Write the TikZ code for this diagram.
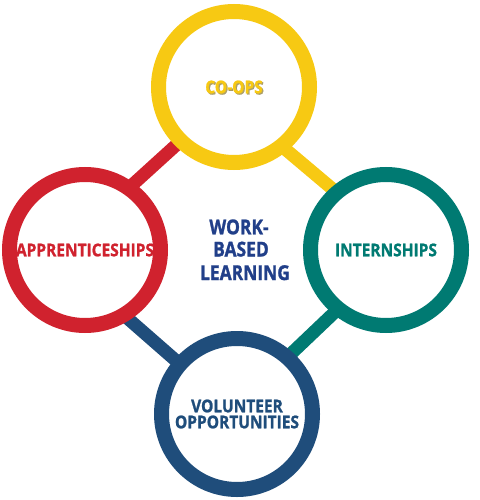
\documentclass[tikz,border=0pt]{standalone}
\usepackage{fontspec}
\setmainfont{Open Sans}[FakeStretch=0.85]
\newfontfamily\lblfont{Open Sans}[FakeStretch=0.88, FakeBold=1.2]
\newfontfamily\ctrfont{Open Sans}[FakeStretch=0.85, FakeBold=1.2]
\definecolor{yellowC}{HTML}{F7C913}
\definecolor{redC}{HTML}{D0222E}
\definecolor{tealC}{HTML}{007A72}
\definecolor{blueC}{HTML}{1F4D7B}
\definecolor{wblC}{HTML}{213F89}
\definecolor{shadowC}{HTML}{9C8A45}
\begin{document}
\begin{tikzpicture}[x=1pt,y=-1pt,
  ring/.style={circle, line width=15pt, fill=white, minimum size=151pt, inner sep=0pt},
  bar/.style={line width=13pt},
  lbl/.style={font=\lblfont\bfseries\fontsize{17.6}{16}\selectfont, align=center},
  ctr/.style={font=\ctrfont\bfseries\fontsize{20.5}{23}\selectfont, text=wblC, anchor=base}]
\useasboundingbox (0,0) rectangle (479,500);
% connector end points
\coordinate (r1) at (194.5,128.4); \coordinate (r2) at (113.9,201.6);
\coordinate (y1) at (266.6,133.4); \coordinate (y2) at (353.4,206.6);
\coordinate (b1) at (113.3,305.8); \coordinate (b2) at (193.3,375.8);
\coordinate (t1) at (347.5,300.0); \coordinate (t2) at (277.5,366.6);
\draw[bar, redC] (r1) -- (r2);
\draw[bar, yellowC] (y1) -- (y2);
\draw[bar, blueC] (b1) -- (b2);
\draw[bar, tealC] (t1) -- (t2);
% circles
\node[ring, draw=yellowC] (top) at (234,87) {};
\node[ring, draw=redC, lbl, text=redC] (left) at (85,250) {APPRENTICESHIPS};
\node[ring, draw=tealC, lbl, text=tealC] (right) at (386,250) {INTERNSHIPS};
\node[ring, draw=blueC, lbl, text=blueC] (bottom) at (237,414) {VOLUNTEER\\OPPORTUNITIES};
% CO-OPS with shadow
\node[lbl, text=shadowC, opacity=0.8] (coopsh) at ([shift={(1.2,1.2)}]top.center) {CO-OPS};
\node[lbl, text=yellowC] (coop) at (top.center) {CO-OPS};
% centre text
\node[ctr] (w1) at (239,234.3) {WORK-};
\node[ctr] (w2) at (241,256.5) {BASED};
\node[ctr] (w3) at (245,280) {LEARNING};
\end{tikzpicture}
\end{document}
